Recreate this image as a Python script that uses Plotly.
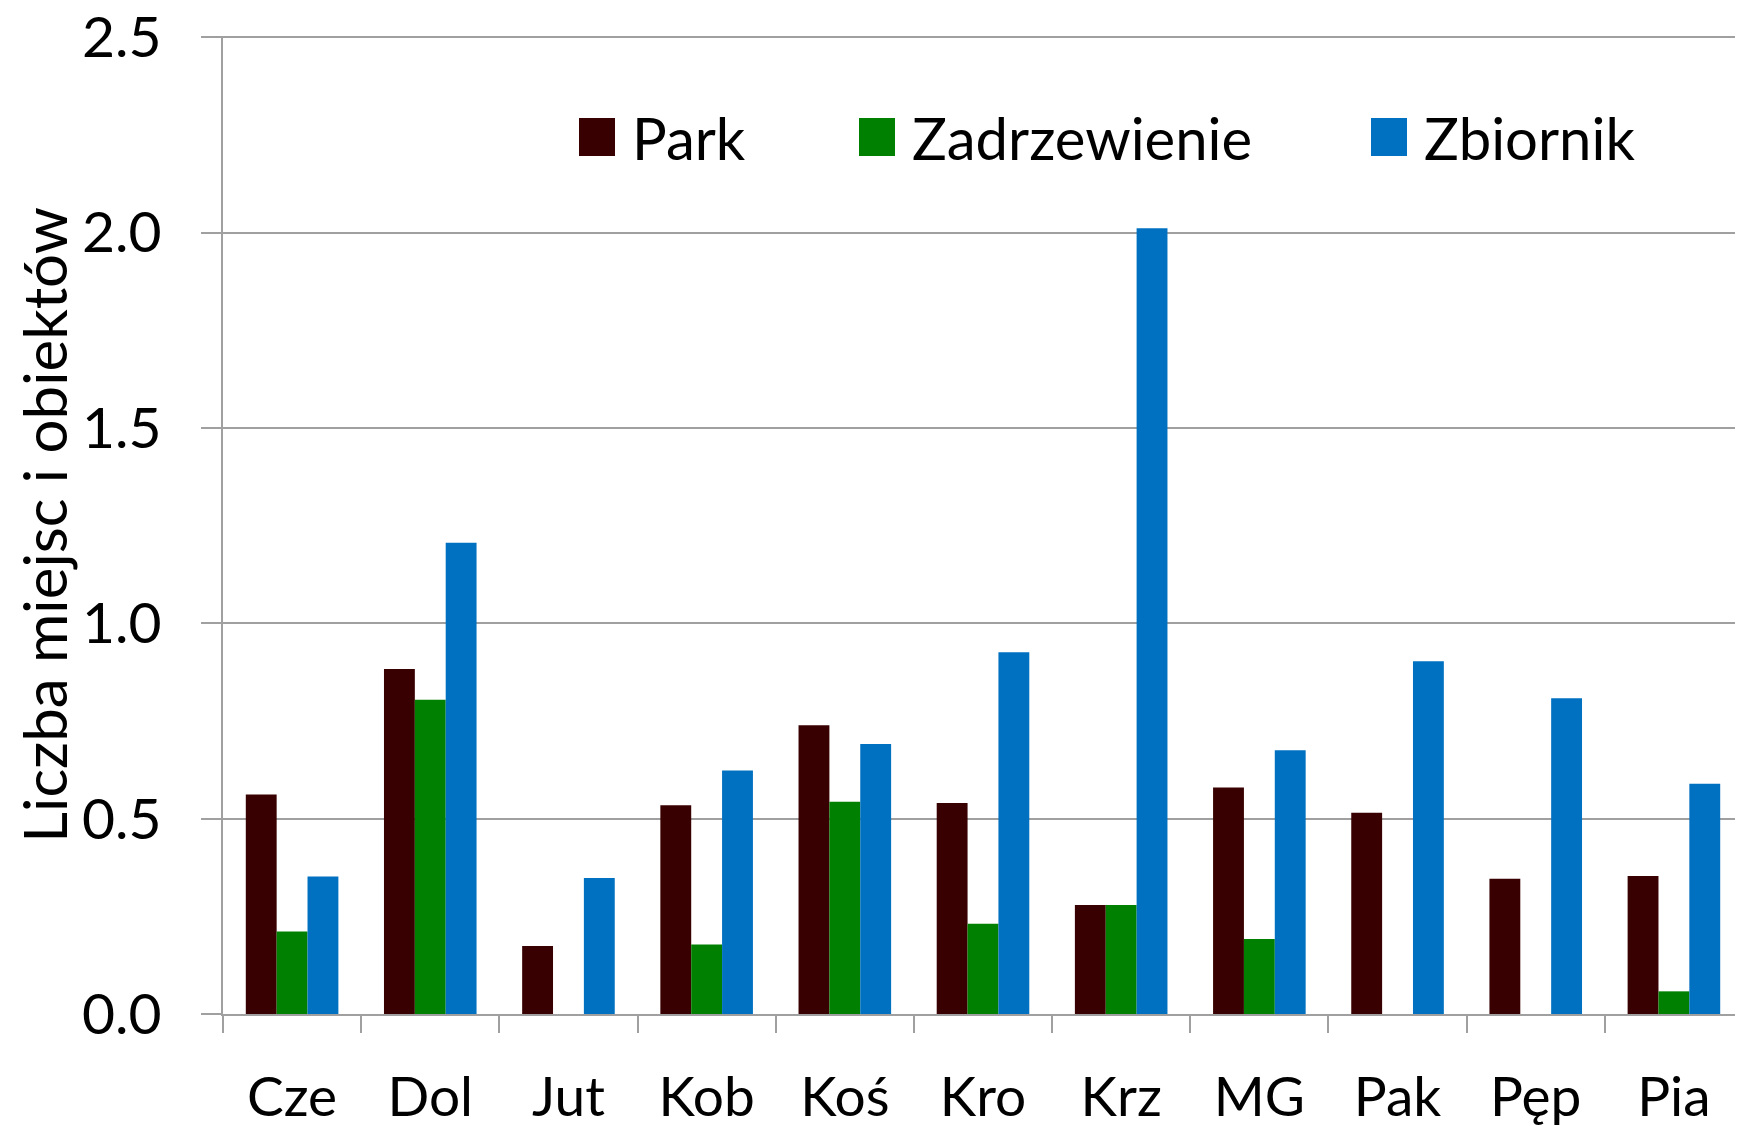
import plotly.graph_objects as go

categories = ["Cze", "Dol", "Jut", "Kob", "Koś", "Kro", "Krz", "MG", "Pak", "Pęp", "Pia"]
park = [0.562, 0.883, 0.174, 0.534, 0.739, 0.540, 0.279, 0.580, 0.515, 0.346, 0.353]
zadrzewienie = [0.211, 0.804, 0, 0.178, 0.543, 0.231, 0.279, 0.192, 0, 0, 0.058]
zbiornik = [0.352, 1.206, 0.348, 0.623, 0.691, 0.926, 2.011, 0.675, 0.903, 0.808, 0.589]
series_names = ["Park", "Zadrzewienie", "Zbiornik"]
colors = ["#380000", "#008000", "#0070C0"]
y_ticks = [0.0, 0.5, 1.0, 1.5, 2.0, 2.5]
y_title = "Liczba miejsc i obiektów"

FONT = "Lato"
GRID = "#A0A0A0"

fig = go.Figure()
for name, vals, col in zip(series_names, [park, zadrzewienie, zbiornik], colors):
    fig.add_trace(go.Bar(x=categories, y=vals, name=name, marker_color=col,
                         marker_line_width=0, showlegend=False))

OFF = 8  # page body margin
W, H = 1743, 1126
ml, mr, mt, mb = 223 - OFF, OFF, 36 - OFF, H + OFF - 1014
pw = W - ml - mr
ph = H - mt - mb

# custom legend (large square swatches); screen coords from reference
legend_x = [579, 859, 1371]
legend_yc = 137
box_w, box_h = 36, 38
for name, col, lx in zip(series_names, colors, legend_x):
    fx = lx - OFF
    fy = legend_yc - OFF
    x0 = (fx - ml) / pw
    x1 = (fx + box_w - ml) / pw
    y0 = (H - mb - (fy + box_h / 2)) / ph
    y1 = (H - mb - (fy - box_h / 2)) / ph
    fig.add_shape(type="rect", xref="paper", yref="paper", x0=x0, x1=x1, y0=y0, y1=y1,
                  fillcolor=col, line_width=0)
    fig.add_annotation(xref="paper", yref="paper", x=(fx + box_w + 15 - ml) / pw,
                       y=(H - mb - fy) / ph, text=name, showarrow=False,
                       xanchor="left", yanchor="middle",
                       font=dict(family=FONT, size=58, color="black"))

fig.update_layout(
    width=W, height=H,
    margin=dict(l=ml, r=mr, t=mt, b=mb),
    paper_bgcolor="white", plot_bgcolor="white",
    barmode="group", bargap=0.33, bargroupgap=0,
    font=dict(family=FONT, size=56, color="black"),
    showlegend=False,
)
fig.update_xaxes(
    type="category", showline=True, linecolor=GRID, linewidth=2,
    ticks="outside", tickson="boundaries", ticklen=17, tickwidth=2, tickcolor=GRID,
    showgrid=False, ticklabelstandoff=34, automargin=False,
    tickfont=dict(family=FONT, size=55, color="black"),
)
fig.update_yaxes(
    range=[0, 2.503], tickvals=y_ticks, ticktext=[f"{v:.1f}" for v in y_ticks],
    showline=True, linecolor=GRID, linewidth=2,
    showgrid=True, gridcolor=GRID, gridwidth=2,
    ticks="outside", ticklen=20, tickwidth=2, tickcolor=GRID,
    ticklabelstandoff=28, zeroline=False, ticklabeloverflow="allow",
    tickfont=dict(family=FONT, size=57, color="black"),
    title=dict(text=y_title, font=dict(family=FONT, size=60, color="black"), standoff=0),
    automargin=False,
)

fig.write_html("out.html")
